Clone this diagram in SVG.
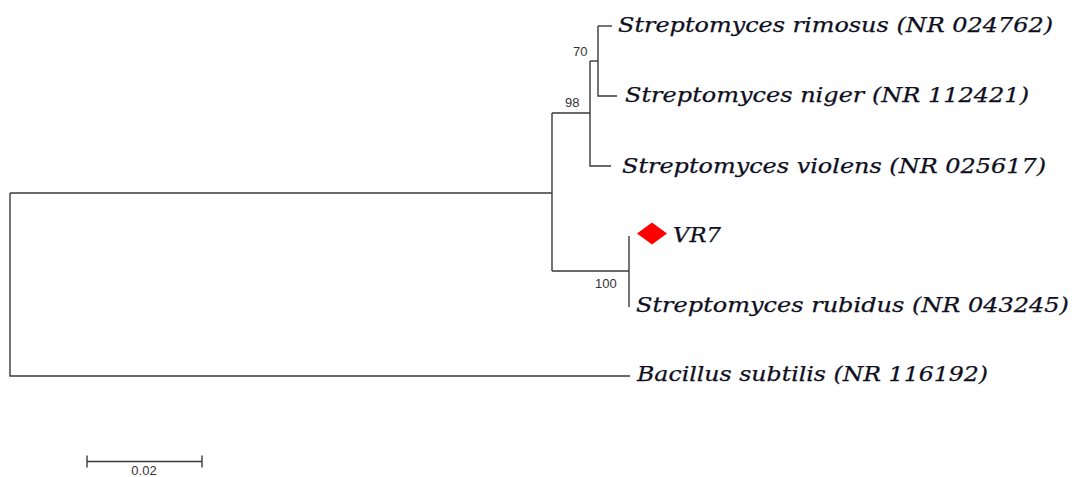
<svg xmlns="http://www.w3.org/2000/svg" width="1072" height="477" viewBox="0 0 1072 477">
  <style>
    .br { fill: none; stroke: #3a3a3a; stroke-width: 1.4; }
    .taxon { font-family: "DejaVu Serif", "Liberation Serif", serif; font-style: italic; font-size: 20px; fill: #0f0f22; stroke: #0f0f22; stroke-width: 0.25; }
    .boot { font-family: "Liberation Sans", Arial, sans-serif; font-size: 13px; fill: #333; }
    .scale { font-family: "Liberation Sans", Arial, sans-serif; font-size: 13px; fill: #333; }
  </style>
  <rect width="1072" height="477" fill="#fff"/>

  <!-- tree branches -->
  <g id="branches">
    <path class="br" d="M10,193 V376 H630"/>
    <path class="br" d="M10,193 H552"/>
    <path class="br" d="M552,113 V271"/>
    <path class="br" d="M552,113 H590"/>
    <path class="br" d="M590,61 V166 H611"/>
    <path class="br" d="M590,61 H598"/>
    <path class="br" d="M598,26 V96 H617"/>
    <path class="br" d="M598,26 H612"/>
    <path class="br" d="M552,271 H629"/>
    <path class="br" d="M629,236 V307"/>
  </g>

  <!-- bootstrap values -->
  <g id="bootstrap">
    <text class="boot" x="573" y="56">70</text>
    <text class="boot" x="565" y="107">98</text>
    <text class="boot" x="595" y="288">100</text>
  </g>

  <!-- taxa -->
  <g id="taxon-rimosus"><text class="taxon" x="618" y="32" textLength="435" lengthAdjust="spacingAndGlyphs">Streptomyces rimosus (NR 024762)</text></g>
  <g id="taxon-niger"><text class="taxon" x="625" y="102" textLength="404" lengthAdjust="spacingAndGlyphs">Streptomyces niger (NR 112421)</text></g>
  <g id="taxon-violens"><text class="taxon" x="622" y="173" textLength="424" lengthAdjust="spacingAndGlyphs">Streptomyces violens (NR 025617)</text></g>
  <g id="taxon-vr7">
    <polygon points="637,233.5 652,222.5 667,233.5 652,244.5" fill="#ff0000"/>
    <text class="taxon" x="673" y="242" textLength="48" lengthAdjust="spacingAndGlyphs">VR7</text>
  </g>
  <g id="taxon-rubidus"><text class="taxon" x="636" y="312" textLength="433" lengthAdjust="spacingAndGlyphs">Streptomyces rubidus (NR 043245)</text></g>
  <g id="taxon-bacillus"><text class="taxon" x="637" y="381" textLength="351" lengthAdjust="spacingAndGlyphs">Bacillus subtilis (NR 116192)</text></g>

  <!-- scale bar -->
  <g id="scale-bar">
    <path class="br" d="M87,461.5 H202 M87,455.5 V467.5 M202,455.5 V467.5"/>
    <text class="scale" x="144" y="475" text-anchor="middle">0.02</text>
  </g>
</svg>
